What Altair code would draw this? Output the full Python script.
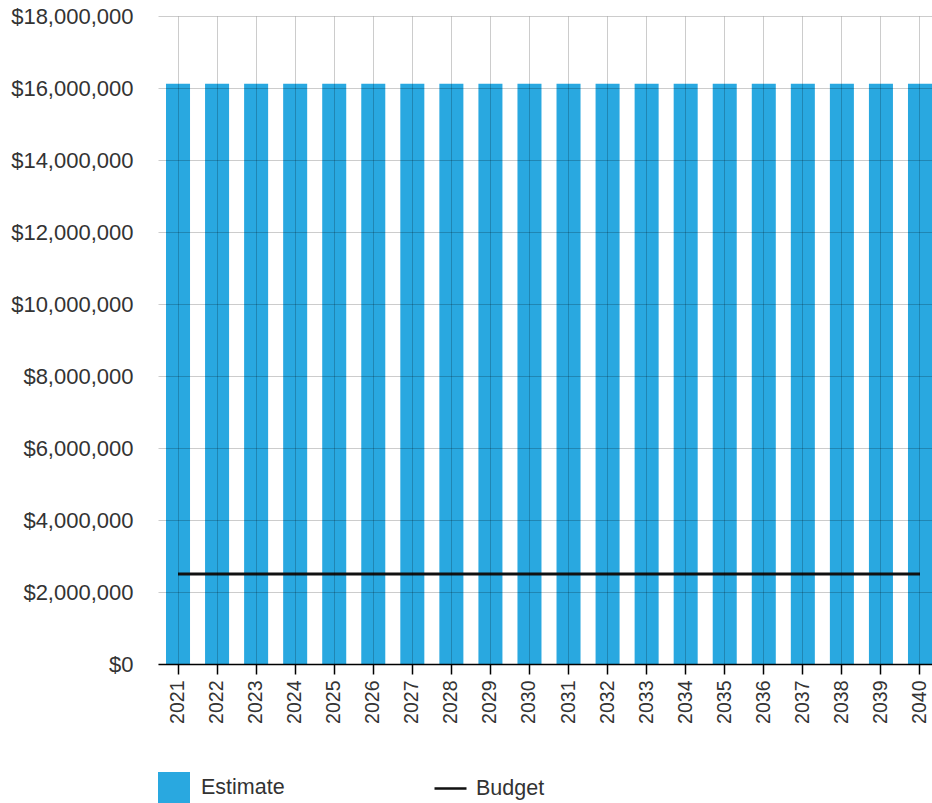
import altair as alt
import pandas as pd

years = [str(y) for y in range(2021, 2041)]
estimate = [16120000] * 20
budget = [2500000] * 20
y_ticks = [0, 2000000, 4000000, 6000000, 8000000, 10000000, 12000000, 14000000, 16000000, 18000000]

df_est = pd.DataFrame({"year": years, "value": estimate, "series": "Estimate"})
df_bud = pd.DataFrame({"year": years, "value": budget, "series": "Budget"})

BLUE = "#29a8e0"
FONT = "Liberation Sans"

x_enc = alt.X(
    "year:N",
    sort=years,
    title=None,
    scale=alt.Scale(paddingInner=0.385, paddingOuter=0.1025, align=1),
    axis=alt.Axis(
        labelAngle=-90, labelFontSize=19.5, labelColor="#333", labelFont=FONT,
        domainColor="#000", domainWidth=1.5, tickColor="#000", tickWidth=1.5,
        tickSize=10, labelPadding=6, grid=True, gridColor="#000",
        gridOpacity=0.2, zindex=1,
    ),
)
y_enc = alt.Y(
    "value:Q",
    title=None,
    scale=alt.Scale(domain=[0, 18000000], nice=False),
    axis=alt.Axis(
        values=y_ticks, format="$,.0f", labelFontSize=22, labelColor="#333",
        labelFont=FONT, domain=False, ticks=False, labelPadding=25,
        grid=True, gridColor="#000", gridOpacity=0.2, zindex=1,
    ),
)

bars = alt.Chart(df_est).mark_bar().encode(
    x=x_enc,
    y=y_enc,
    color=alt.Color(
        "series:N",
        scale=alt.Scale(domain=["Estimate"], range=[BLUE]),
        legend=alt.Legend(
            title=None, orient="none", legendX=-1, legendY=755,
            symbolType="square", symbolSize=1024, symbolOpacity=1,
            labelFontSize=21.5, labelColor="#333", labelFont=FONT, labelOffset=10,
        ),
    ),
)

line = alt.Chart(df_bud).mark_line(color="#111", strokeWidth=3).encode(
    x=alt.X("year:N", sort=years),
    y="value:Q",
    strokeDash=alt.StrokeDash(
        "series:N",
        scale=alt.Scale(domain=["Budget"], range=[[1, 0]]),
        legend=alt.Legend(
            title=None, orient="none", legendX=275, legendY=755,
            symbolType="stroke", symbolSize=1024, symbolStrokeColor="#111",
            symbolStrokeWidth=2.5, symbolOpacity=1,
            labelFontSize=21.5, labelColor="#333", labelFont=FONT, labelOffset=8,
        ),
    ),
)

chart = alt.layer(bars, line).resolve_legend(color="independent", strokeDash="independent").properties(
    width=774, height=648,
    background="white",
    autosize=alt.AutoSizeParams(type="none"),
    padding={"left": 158, "top": 16, "right": 0, "bottom": 139},
).configure_view(stroke=None)

chart.save("out.html", embed_options={"renderer": "svg", "actions": False})
